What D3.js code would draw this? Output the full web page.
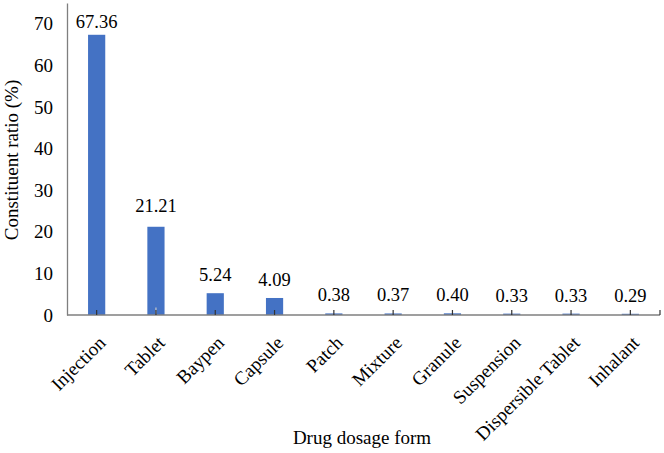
<!DOCTYPE html>
<html>
<head>
<meta charset="utf-8">
<script src="https://cdn.jsdelivr.net/npm/d3@7"></script>
<style>
  body { margin: 0; background: #fff; }
  text { font-family: "Liberation Serif", "Times New Roman", serif; fill: #000; }
</style>
</head>
<body>
<svg id="chart" width="664" height="453"></svg>
<script>
const categories = ['Injection', 'Tablet', 'Baypen', 'Capsule', 'Patch', 'Mixture', 'Granule', 'Suspension', 'Dispersible Tablet', 'Inhalant'];
const values = [67.36, 21.21, 5.24, 4.09, 0.38, 0.37, 0.40, 0.33, 0.33, 0.29];
const valueLabels = ['67.36', '21.21', '5.24', '4.09', '0.38', '0.37', '0.40', '0.33', '0.33', '0.29'];
const errors = [0, 1.5, 0, 0, 0, 0, 0, 1.2, 0, 0];
const yTicks = [0, 10, 20, 30, 40, 50, 60, 70];

const svg = d3.select('#chart');
const margin = {left: 67, right: 4, top: 3, bottom: 138};
const width = 664 - margin.left - margin.right;
const height = 453 - margin.top - margin.bottom;

const g = svg.append('g').attr('transform', `translate(${margin.left},${margin.top})`);

const x = d3.scaleBand().domain(categories).range([0, width]).paddingInner(0.71).paddingOuter(0.355);
const xc = d3.scaleBand().domain(categories).range([0, width]); // category slots for ticks
const y = d3.scaleLinear().domain([0, 75]).range([height, 0]);

// y axis
const yAxis = g.append('g').call(d3.axisLeft(y).tickValues(yTicks).tickSize(0).tickPadding(14));
yAxis.attr('font-family', null);
yAxis.select('.domain').attr('stroke', '#7f7f7f').attr('stroke-width', 1.3);
yAxis.selectAll('text').attr('font-size', 19).attr('font-family', '"Liberation Serif", serif');

// bars
g.selectAll('.bar')
  .data(values)
  .enter()
  .append('rect')
  .attr('class', 'bar')
  .attr('x', (d, i) => x(categories[i]))
  .attr('y', d => y(d))
  .attr('width', x.bandwidth())
  .attr('height', d => y(0) - y(d))
  .attr('fill', '#4472c4');

// error bars (light)
g.selectAll('.err')
  .data(values)
  .enter()
  .filter((d, i) => errors[i] > 0)
  .append('line')
  .attr('x1', (d, i) => xc(categories[i]) + xc.bandwidth() / 2)
  .attr('x2', (d, i) => xc(categories[i]) + xc.bandwidth() / 2)
  .attr('y1', d => y(d))
  .attr('y2', (d, i) => y(d + errors[i]))
  .attr('stroke', '#c8c8c8')
  .attr('stroke-width', 1.2);

// x axis
g.append('line')
  .attr('x1', 0).attr('x2', width)
  .attr('y1', y(0)).attr('y2', y(0))
  .attr('stroke', '#7f7f7f').attr('stroke-width', 1.5);
g.selectAll('.xtick')
  .data(categories)
  .enter()
  .append('line')
  .attr('x1', d => xc(d) + xc.bandwidth() / 2)
  .attr('x2', d => xc(d) + xc.bandwidth() / 2)
  .attr('y1', y(0)).attr('y2', y(0) - 5)
  .attr('stroke', '#333').attr('stroke-width', 1.2);
g.append('line')
  .attr('x1', width).attr('x2', width)
  .attr('y1', y(0)).attr('y2', y(0) - 5)
  .attr('stroke', '#333').attr('stroke-width', 1.2);

// x labels
g.selectAll('.xlabel')
  .data(categories)
  .enter()
  .append('text')
  .attr('text-anchor', 'end')
  .attr('font-size', 19)
  .attr('transform', d => `translate(${xc(d) + xc.bandwidth() / 2 + 10},${y(0) + 29}) rotate(-45)`)
  .text(d => d);

// value labels
g.selectAll('.vlabel')
  .data(values)
  .enter()
  .append('text')
  .attr('text-anchor', 'middle')
  .attr('font-size', 18.5)
  .attr('x', (d, i) => xc(categories[i]) + xc.bandwidth() / 2)
  .attr('y', (d, i) => Math.max(y(d) - 12, 25) - (i === 1 ? 3 : 0))
  .text((d, i) => valueLabels[i]);

// axis titles
svg.append('text')
  .attr('text-anchor', 'middle')
  .attr('font-size', 19)
  .attr('x', 362).attr('y', 444)
  .text('Drug dosage form');
svg.append('text')
  .attr('text-anchor', 'middle')
  .attr('font-size', 19)
  .attr('transform', `translate(18,160) rotate(-90)`)
  .text('Constituent ratio (%)');
</script>
</body>
</html>
